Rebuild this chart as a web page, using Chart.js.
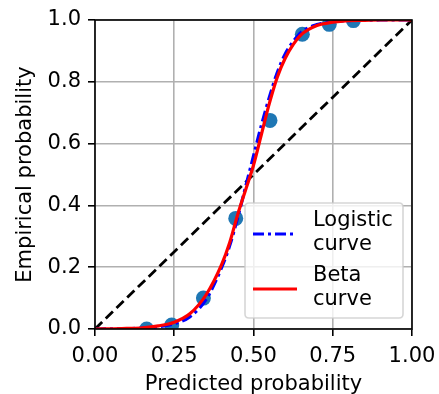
<!DOCTYPE html>
<html>
<head>
<meta charset="utf-8">
<script src="https://cdn.jsdelivr.net/npm/chart.js@4/dist/chart.umd.min.js"></script>
<style>
html,body{margin:0;padding:0;background:#fff;}
#wrap{width:439px;height:394px;}
</style>
</head>
<body>
<div id="wrap"><canvas id="c" width="439" height="394"></canvas></div>
<script>
// ---- data ----
const pointX = [0.163, 0.242, 0.342, 0.444, 0.552, 0.654, 0.739, 0.815];
const pointY = [0.000, 0.013, 0.100, 0.358, 0.675, 0.954, 0.986, 0.998];

const curveX = [0, 0.05, 0.1, 0.15, 0.2, 0.25, 0.3, 0.35, 0.4, 0.425, 0.45, 0.475, 0.5, 0.525, 0.55, 0.575, 0.6, 0.625, 0.65, 0.7, 0.75, 0.8, 0.85, 0.9, 0.95, 1.0];
const betaY = [0, 0.0005, 0.002, 0.004, 0.01, 0.022, 0.05, 0.11, 0.21, 0.28, 0.37, 0.45, 0.53, 0.63, 0.73, 0.815, 0.876, 0.92, 0.952, 0.982, 0.993, 0.998, 0.999, 1, 1, 1];
const logisticY = [0, 0.0002, 0.001, 0.003, 0.007, 0.017, 0.04, 0.095, 0.2, 0.27, 0.36, 0.46, 0.56, 0.66, 0.75, 0.83, 0.89, 0.93, 0.96, 0.985, 0.995, 0.998, 0.999, 1, 1, 1];

const diagX = [0, 1];
const diagY = [0, 1];

const xTicks = [0, 0.25, 0.5, 0.75, 1.0];
const xTickLabels = ["0.00", "0.25", "0.50", "0.75", "1.00"];
const yTicks = [0, 0.2, 0.4, 0.6, 0.8, 1.0];
const yTickLabels = ["0.0", "0.2", "0.4", "0.6", "0.8", "1.0"];

const xTitle = "Predicted probability";
const yTitle = "Empirical probability";
const legendLabels = [["Logistic", "curve"], ["Beta", "curve"]];

const zip = (xs, ys) => xs.map((x, i) => ({x: x, y: ys[i]}));

const FONT = "'DejaVu Sans', sans-serif";
const FS = 21;

const framePlugin = {
  id: 'frame',
  afterDatasetsDraw(chart) {
    const {ctx, chartArea: a} = chart;
    ctx.save();
    ctx.strokeStyle = '#000';
    ctx.lineWidth = 1.6;
    ctx.strokeRect(a.left, a.top, a.right - a.left, a.bottom - a.top);
    ctx.restore();
  }
};

const legendPlugin = {
  id: 'mlLegend',
  afterDraw(chart) {
    const {ctx} = chart;
    const ds = [chart.data.datasets[1], chart.data.datasets[2]];
    const boxL = 245, boxT = 203, boxR = 403, boxB = 318;
    ctx.save();
    ctx.beginPath();
    const r = 4;
    ctx.moveTo(boxL + r, boxT);
    ctx.lineTo(boxR - r, boxT);
    ctx.quadraticCurveTo(boxR, boxT, boxR, boxT + r);
    ctx.lineTo(boxR, boxB - r);
    ctx.quadraticCurveTo(boxR, boxB, boxR - r, boxB);
    ctx.lineTo(boxL + r, boxB);
    ctx.quadraticCurveTo(boxL, boxB, boxL, boxB - r);
    ctx.lineTo(boxL, boxT + r);
    ctx.quadraticCurveTo(boxL, boxT, boxL + r, boxT);
    ctx.closePath();
    ctx.fillStyle = 'rgba(255,255,255,0.8)';
    ctx.fill();
    ctx.strokeStyle = 'rgba(204,204,204,0.8)';
    ctx.lineWidth = 1.6;
    ctx.stroke();
    const rows = [{lineY: 234, textY: [221, 245]}, {lineY: 289, textY: [276, 300]}];
    ctx.font = FS + "px " + FONT;
    ctx.textBaseline = 'middle';
    ctx.textAlign = 'left';
    rows.forEach((row, i) => {
      const d = ds[i];
      ctx.beginPath();
      ctx.setLineDash(d.borderDash || []);
      ctx.strokeStyle = d.borderColor;
      ctx.lineWidth = d.borderWidth;
      ctx.moveTo(253, row.lineY);
      ctx.lineTo(297, row.lineY);
      ctx.stroke();
      ctx.setLineDash([]);
      ctx.fillStyle = '#000';
      legendLabels[i].forEach((t, j) => ctx.fillText(t, 313, row.textY[j]));
    });
    ctx.restore();
  }
};

new Chart(document.getElementById('c'), {
  type: 'scatter',
  data: {
    datasets: [
      {
        label: 'points', type: 'scatter', data: zip(pointX, pointY),
        backgroundColor: '#1f77b4', borderColor: '#1f77b4', borderWidth: 0,
        pointRadius: 7.5, pointHoverRadius: 7.5, clip: 0, order: 4
      },
      {
        label: 'Logistic curve', type: 'line', data: zip(curveX, logisticY),
        borderColor: '#0000ff', borderWidth: 3.2, borderDash: [11, 4, 3, 4],
        pointRadius: 0, fill: false, cubicInterpolationMode: 'monotone', clip: 0, order: 2
      },
      {
        label: 'Beta curve', type: 'line', data: zip(curveX, betaY),
        borderColor: '#ff0000', borderWidth: 3.2,
        pointRadius: 0, fill: false, cubicInterpolationMode: 'monotone', clip: 0, order: 1
      },
      {
        label: 'diag', type: 'line', data: zip(diagX, diagY),
        borderColor: '#000000', borderWidth: 2.8, borderDash: [10, 5],
        pointRadius: 0, fill: false, clip: 0, order: 3
      }
    ]
  },
  options: {
    responsive: false,
    animation: false,
    events: [],
    layout: {padding: {top: 20, right: 27, left: 0, bottom: 0}},
    plugins: {legend: {display: false}, tooltip: {enabled: false}},
    scales: {
      x: {
        type: 'linear', min: 0, max: 1,
        afterBuildTicks: (s) => { s.ticks = xTicks.map(v => ({value: v})); },
        afterFit: (s) => { s.height = 65; s.paddingLeft = 0; s.paddingRight = 0; },
        ticks: {
          callback: (v) => { const i = xTicks.indexOf(v); return i >= 0 ? xTickLabels[i] : ''; },
          color: '#000', font: {family: FONT, size: FS}, padding: 8, maxRotation: 0, autoSkip: false
        },
        grid: {color: '#b0b0b0', lineWidth: 1.6, tickColor: '#000', tickLength: 7, tickWidth: 1.6},
        border: {display: false},
        title: {display: true, text: xTitle, color: '#000', font: {family: FONT, size: FS, lineHeight: 1}, padding: {top: 0, bottom: -1}}
      },
      y: {
        type: 'linear', min: 0, max: 1,
        afterBuildTicks: (s) => { s.ticks = yTicks.map(v => ({value: v})); },
        afterFit: (s) => { s.width = 95; s.paddingTop = 0; s.paddingBottom = 0; },
        ticks: {
          callback: (v) => { const i = yTicks.indexOf(v); return i >= 0 ? yTickLabels[i] : ''; },
          color: '#000', font: {family: FONT, size: FS}, padding: 7, autoSkip: false
        },
        grid: {color: '#b0b0b0', lineWidth: 1.6, tickColor: '#000', tickLength: 7, tickWidth: 1.6},
        border: {display: false},
        title: {display: true, text: yTitle, color: '#000', font: {family: FONT, size: FS, lineHeight: 1}, padding: {top: 15, bottom: 0}}
      }
    }
  },
  plugins: [framePlugin, legendPlugin]
});
</script>
</body>
</html>
